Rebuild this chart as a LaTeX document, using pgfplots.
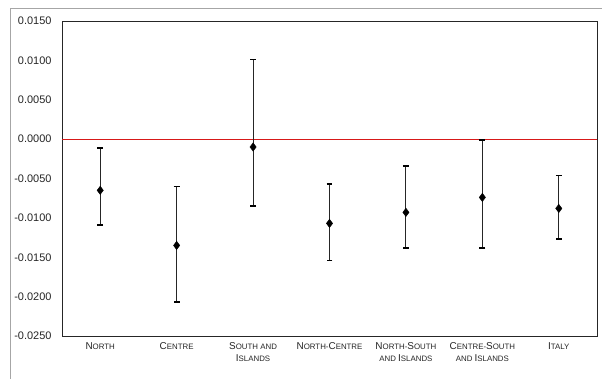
\documentclass[border=0pt]{standalone}
\usepackage{fontspec}
\setmainfont{Liberation Sans}
\usepackage{pgfplots}
\usepackage{pgfplotstable}
\pgfplotsset{compat=1.18}
\definecolor{zeroline}{RGB}{215,25,25}
\newcommand\Bg[1]{{\fontsize{10}{12}\selectfont #1}}
\newcommand\Sm[1]{{\fontsize{7.9}{12}\selectfont #1}}
\pgfplotstableread{
x y ep em
0 -0.0065 0.0054 0.0044
1 -0.0135 0.0075 0.0072
2 -0.0010 0.0111 0.0075
3 -0.0107 0.0050 0.0047
4 -0.0093 0.0059 0.0045
5 -0.0074 0.0073 0.0064
6 -0.0088 0.0042 0.0039
}\data
\begin{document}
\begin{tikzpicture}[x=1bp,y=1bp]
\useasboundingbox (0,0) rectangle (602,378);
\fill[white] (0,0) rectangle (602,378);
\draw[gray!70, line width=0.8bp] (10,-5) -- (10,370) -- (610,370);
\begin{axis}[
  at={(62bp,42bp)}, anchor=south west,
  scale only axis, width=535bp, height=315bp,
  xmin=-0.5, xmax=6.5, ymin=-0.025, ymax=0.015,
  ytick={-0.025,-0.02,-0.015,-0.01,-0.005,0,0.005,0.01,0.015},
  xtick={0,1,2,3,4,5,6},
  xticklabels={
    {\Bg{N}\Sm{ORTH}},
    {\Bg{C}\Sm{ENTRE}},
    {\Bg{S}\Sm{OUTH AND}\\\Bg{I}\Sm{SLANDS}},
    {\Bg{N}\Sm{ORTH-}\Bg{C}\Sm{ENTRE}},
    {\Bg{N}\Sm{ORTH-}\Bg{S}\Sm{OUTH}\\\Sm{AND }\Bg{I}\Sm{SLANDS}},
    {\Bg{C}\Sm{ENTRE-}\Bg{S}\Sm{OUTH}\\\Sm{AND }\Bg{I}\Sm{SLANDS}},
    {\Bg{I}\Sm{TALY}}},
  xticklabel style={align=center, text=black!85, yshift=-3bp},
  yticklabel style={text=black!85, font=\fontsize{11}{13}\selectfont, xshift=-7bp},
  major tick length=0pt,
  scaled y ticks=false,
  y tick label style={/pgf/number format/.cd, fixed, fixed zerofill, precision=4, assume math mode=true},
  axis line style={black!85, line width=0.8bp},
  clip=false,
]
\addplot[color=zeroline, line width=1.1bp, no marks, forget plot] coordinates {(-0.5,0) (6.5,0)};
\pgfplotsinvokeforeach{0.5,1.5,2.5,3.5,4.5,5.5}{
  \draw[gray, line width=0.6bp] (axis cs:#1,0) ++(0,-3bp) -- ++(0,6bp);
}
\addplot[only marks, black, mark=diamond*, mark size=4.2pt,
  error bars/.cd, y dir=both, y explicit,
  error bar style={black!85, line width=0.9pt},
  error mark options={black, rotate=90, line width=1.6pt, mark size=3pt}]
  table[x=x, y=y, y error plus=ep, y error minus=em]{\data};
\end{axis}
\end{tikzpicture}
\end{document}
